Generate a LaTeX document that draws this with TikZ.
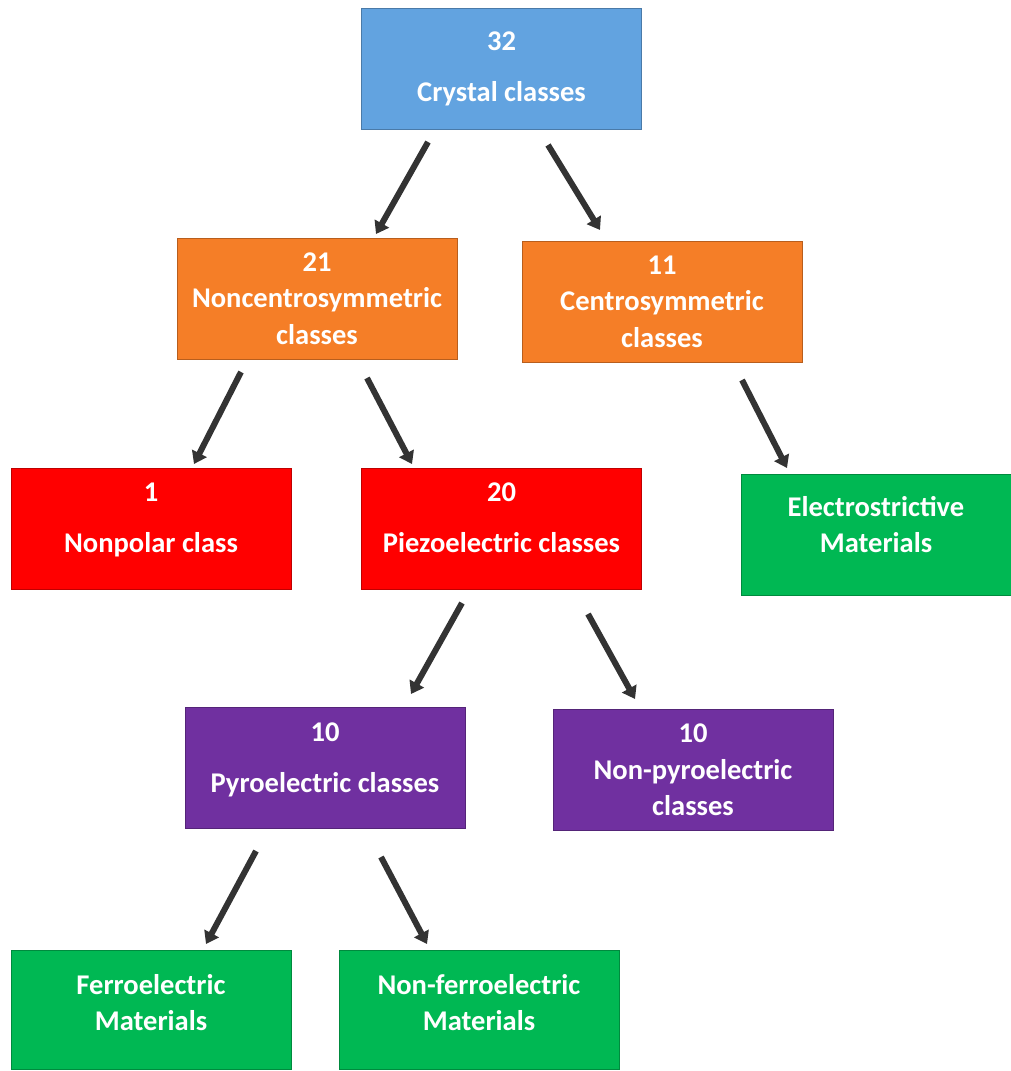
\documentclass[tikz,border=0pt]{standalone}
\usepackage{fontspec}
\setmainfont{Carlito}
\usetikzlibrary{arrows.meta}
\definecolor{CrystalBlue}{HTML}{62A3E0}
\definecolor{ClassOrange}{HTML}{F57E27}
\definecolor{ClassRed}{HTML}{FF0000}
\definecolor{ClassPurple}{HTML}{7030A0}
\definecolor{MatGreen}{HTML}{00B853}
\definecolor{ArrowGray}{HTML}{333333}
\begin{document}
\begin{tikzpicture}[x=0.025cm, y=-0.025cm,
    every node/.style={font=\fontsize{20.3}{25.9}\selectfont\bfseries, text=white},
    every label/.style={align=center, inner sep=0pt},
    classbox/.style={draw=#1!75!black, line width=0.6pt, fill=#1, minimum width=7cm, minimum height=3.025cm, align=center, inner sep=0pt},
    flowarrow/.style={ArrowGray, line width=0.15cm, -{Triangle[width=0.4cm, length=0.3cm]}}]
            \useasboundingbox (0,0) rectangle (1011,1071);

            % Top node
            \node[classbox=CrystalBlue] (crystal) at (501.5,68.5) {32\\[0.36cm]Crystal classes};

            % Second row
            \node[classbox=ClassOrange] (noncentro) at (317,298.5) {21\\Noncentrosymmetric\\classes};
            \node[classbox=ClassOrange] (centro) at (662,301.5) {11\\Centrosymmetric\\classes};

            % Third row (text sits a little above the middle)
            \node[classbox=ClassRed, label={[yshift=0.225cm]center:{1\\[0.36cm]Nonpolar class}}] (nonpolar) at (151,529) {};
            \node[classbox=ClassRed, label={[yshift=0.275cm]center:{20\\[0.36cm]Piezoelectric classes}}] (piezo) at (501.5,529) {};
            \node[classbox=MatGreen, minimum width=6.75cm, label={[yshift=0.25cm]center:{Electrostrictive\\Materials}}] (electro) at (876,534.5) {};

            % Fourth row
            \node[classbox=ClassPurple, label={[yshift=0.2cm]center:{10\\[0.36cm]Pyroelectric classes}}] (pyro) at (325,767.5) {};
            \node[classbox=ClassPurple] (nonpyro) at (693,770) {10\\Non-pyroelectric\\classes};

            % Bottom row
            \node[classbox=MatGreen, minimum height=2.975cm, label={[yshift=0.175cm]center:{Ferroelectric\\Materials}}] (ferro) at (151,1009.5) {};
            \node[classbox=MatGreen, minimum height=2.975cm, label={[yshift=0.175cm]center:{Non-ferroelectric\\Materials}}] (nonferro) at (479,1009.5) {};

            % Arrow ends
            \coordinate (a1) at (428,142);  \coordinate (b1) at (376,234);
            \coordinate (a2) at (548,145);  \coordinate (b2) at (600,230);
            \coordinate (a3) at (241,372);  \coordinate (b3) at (194,464);
            \coordinate (a4) at (367,378);  \coordinate (b4) at (412,464);
            \coordinate (a5) at (742,380);  \coordinate (b5) at (787,468);
            \coordinate (a6) at (462,603);  \coordinate (b6) at (411,694);
            \coordinate (a7) at (588,614);  \coordinate (b7) at (635,699);
            \coordinate (a8) at (256,851);  \coordinate (b8) at (206,944);
            \coordinate (a9) at (381,857);  \coordinate (b9) at (427,944);

            % Arrows
            \draw[flowarrow] (a1) -- (b1);
            \draw[flowarrow] (a2) -- (b2);
            \draw[flowarrow] (a3) -- (b3);
            \draw[flowarrow] (a4) -- (b4);
            \draw[flowarrow] (a5) -- (b5);
            \draw[flowarrow] (a6) -- (b6);
            \draw[flowarrow] (a7) -- (b7);
            \draw[flowarrow] (a8) -- (b8);
            \draw[flowarrow] (a9) -- (b9);
\end{tikzpicture}
\end{document}
